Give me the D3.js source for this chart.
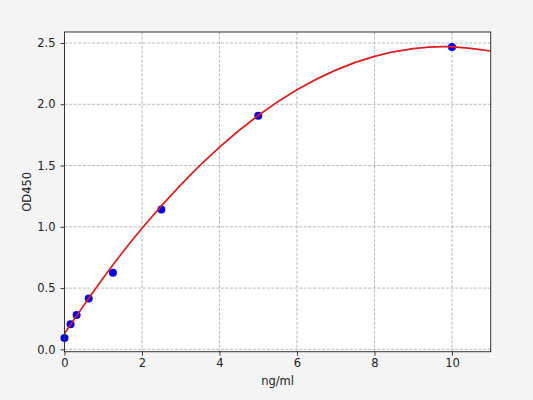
<!DOCTYPE html>
<html><head><meta charset="utf-8">
<script src="https://cdn.jsdelivr.net/npm/d3@7/dist/d3.min.js"></script>
<style>
html,body{margin:0;padding:0;background:#f4f4f4;}
svg{display:block;font-family:"DejaVu Sans",sans-serif;}
</style></head>
<body>
<svg id="chart" width="533" height="400"></svg>
<script>
// Measured standards
const concentrations = [0, 0.156, 0.3125, 0.625, 1.25, 2.5, 5, 10];
const odValues = [0.092, 0.205, 0.28, 0.415, 0.625, 1.142, 1.907, 2.468];
// Fitted curve
const curveX = [0, 1, 2, 3, 4, 5, 6, 7, 8, 9, 10, 11];
const curveY = [0.13, 0.583, 0.988, 1.343, 1.65, 1.909, 2.119, 2.279, 2.391, 2.454, 2.469, 2.435];
// Ticks
const xTicks = [0, 2, 4, 6, 8, 10];
const yTicks = [0.0, 0.5, 1.0, 1.5, 2.0, 2.5];
const xLabel = "ng/ml";
const yLabel = "OD450";

const svg = d3.select("#chart");
const L = 64.5, R = 490.7, T = 32, B = 351.7;
const x = d3.scaleLinear().domain([0, 11]).range([L, R]);
const y = d3.scaleLinear().domain([-0.019, 2.59]).range([B, T]);

svg.append("rect").attr("x", L).attr("y", T).attr("width", R - L).attr("height", B - T).attr("fill", "#fff");

const grid = svg.append("g").attr("stroke", "#b0b0b0").attr("stroke-width", 0.9).attr("stroke-dasharray", "3,1.6");
grid.selectAll(".gx").data(xTicks).join("line")
  .attr("x1", d => x(d)).attr("x2", d => x(d)).attr("y1", T).attr("y2", B);
grid.selectAll(".gy").data(yTicks).join("line")
  .attr("y1", d => y(d)).attr("y2", d => y(d)).attr("x1", L).attr("x2", R);

const fmt = d3.format(".1f");
const xAxis = svg.append("g").attr("transform", `translate(0,${B})`)
  .call(d3.axisBottom(x).tickValues(xTicks).tickSize(4).tickPadding(3.5).tickFormat(d3.format("d")));
const yAxis = svg.append("g").attr("transform", `translate(${L},0)`)
  .call(d3.axisLeft(y).tickValues(yTicks).tickSize(4).tickPadding(5).tickFormat(fmt));
[xAxis, yAxis].forEach(a => {
  a.select(".domain").remove();
  a.selectAll("line").attr("stroke", "#222").attr("stroke-width", 0.9);
  a.selectAll("text").attr("font-family", "DejaVu Sans").attr("font-size", "11.5px").attr("fill", "#222");
});

const line = d3.line().x(d => x(d[0])).y(d => y(d[1])).curve(d3.curveNatural);
svg.append("clipPath").attr("id", "clip").append("rect")
  .attr("x", L).attr("y", T).attr("width", R - L).attr("height", B - T);

svg.append("g").selectAll("circle").data(concentrations.map((c, i) => [c, odValues[i]])).join("circle")
  .attr("cx", d => x(d[0])).attr("cy", d => y(d[1])).attr("r", 4).attr("fill", "#0000ee");

svg.append("path").datum(curveX.map((c, i) => [c, curveY[i]]))
  .attr("d", line).attr("fill", "none").attr("stroke", "#d81e1e").attr("stroke-width", 1.7)
  .attr("clip-path", "url(#clip)");

svg.append("rect").attr("x", L).attr("y", T).attr("width", R - L).attr("height", B - T)
  .attr("fill", "none").attr("stroke", "#333").attr("stroke-width", 1);

svg.append("text").attr("x", (L + R) / 2).attr("y", 385).attr("text-anchor", "middle")
  .attr("font-size", "11.5px").attr("fill", "#222").text(xLabel);
svg.append("text").attr("transform", `translate(31,${(T + B) / 2}) rotate(-90)`).attr("text-anchor", "middle")
  .attr("font-size", "11.5px").attr("fill", "#222").text(yLabel);
</script>
</body></html>
